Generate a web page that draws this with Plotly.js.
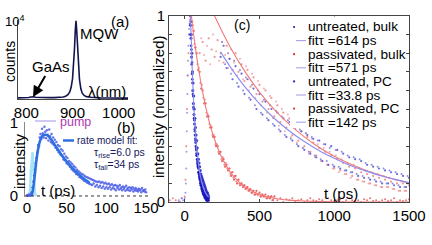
<!DOCTYPE html>
<html><head><meta charset="utf-8">
<script src="https://cdn.plot.ly/plotly-3.0.1.min.js"></script>
<style>html,body{margin:0;padding:0;background:#fff}#chart{width:432px;height:245px}</style>
</head><body><div id="chart"></div>
<script>
// ---------- panel (a): PL spectrum ----------
const specWavelength = [782,790,800,805,810,813,816,820,830,840,850,860,870,880,885,890,894,897,900,902,904,906,907.5,909,911,913,915,918,921,925,930,940,950,960,980,1000,1020];
const specCounts     = [150,150,180,200,260,320,280,220,180,160,170,180,200,260,350,550,900,1500,2600,4000,6200,8800,10000,8800,6200,4000,2500,1300,750,450,300,220,170,150,130,120,110];
const aTicks = [800,900,1000];
const aYTickVal = 10000, aYTickText = '10<sup>4</sup>';

// ---------- panel (b): rise/fall ----------
const bDotStart = 0, bDotStep = 1;
const bDots = [0.01,0.0,0.02,0.01,0.0,0.03,
 0.05,0.12,0.2,0.28,0.36,
 0.45,0.52,0.6,0.7,0.68,0.8,0.85,0.78,0.92,0.86,
 0.8,0.95,0.88,0.79,0.9,0.84,0.76,0.91,0.82,0.74,
 0.85,0.72,0.8,0.7,0.77,0.66,0.74,0.63,0.7,0.6,
 0.68,0.57,0.64,0.55,0.62,0.5,0.58,0.49,0.54,0.45,
 0.52,0.43,0.48,0.4,0.46,0.37,0.44,0.35,0.41,0.33,
 0.39,0.3,0.36,0.29,0.34,0.26,0.32,0.25,0.3,0.23,
 0.29,0.21,0.27,0.2,0.26,0.18,0.25,0.17,0.24,0.16,
 0.23,0.15,0.22,0.17,0.21,0.13,0.2,0.15,0.19,0.12,
 0.2,0.14,0.18,0.11,0.19,0.13,0.17,0.1,0.18,0.12,
 0.16,0.1,0.17,0.12,0.15,0.09,0.16,0.11,0.14,0.1,
 0.15,0.08,0.14,0.11,0.13,0.09,0.15,0.1,0.12,0.08,
 0.13,0.1,0.12,0.07,0.14,0.09,0.11,0.08,0.12,0.07,
 0.11,0.09,0.12,0.06,0.1,0.08,0.11,0.07,0.09,0.06,
 0.1,0.08,0.09,0.05,0.11,0.07,0.08,0.06,0.09,0.05];
const bFitT = [6,8,10,12,14,16,18,20,23,26,30,35,40,45,50,55,60,65,70,75,79];
const bFitV = [0,0.12,0.3,0.5,0.64,0.74,0.8,0.83,0.84,0.83,0.78,0.7,0.62,0.54,0.47,0.41,0.35,0.3,0.25,0.21,0.18];
const pumpT = [0,2,3,4,5,6,7,8,9,10,12];
const pumpV = [0,0,0.02,0.1,0.35,0.58,0.6,0.4,0.15,0.03,0];
const bTicks = [0,50,100,150];

// ---------- panel (c): TRPL ----------
const pcURiseT = [-40,-30,-20,-10,0,5,8,10,12,14,16,18,20,22,25,28,30,33,36];
const pcURiseV = [0.01,0,0.02,0.01,0.02,0.05,0.1,0.18,0.27,0.38,0.48,0.58,0.68,0.76,0.84,0.9,0.93,0.96,0.98];
const pcUStart = 38, pcUStep = 2;
const pcUDecay = [.95,1.0,.88,.9,.78,.8,.69,.7,.6,.64,.53,.57,.47,.5,.42,.45,.36,.4,.32,.36,.28,.33,.25,.29,.21,.26,.19,.23,.16,.21,.14,.19,.13,.17,.11,.15,.09,.14,.08,.13,.07,.12,.06,.11,.05,.1,.04,.09,.03,.08,.03,.07,.02,.06,.02,.05,.01,.05,.02,.04,.01,.03];
const pcU2Start = 39, pcU2Step = 2;
const pcUDecay2 = [.9,.97,.84,.82,.74,.75,.66,.64,.58,.57,.51,.5,.45,.44,.39,.38,.34,.33,.3,.29,.26,.25,.23,.22,.2,.19,.18,.16,.15,.15,.13,.12,.12,.1,.1,.09,.09,.07,.08,.06,.07,.05,.06,.04,.05,.04,.04,.03,.04,.02,.03,.02,.03,.01,.02,.02,.01,.02,.01,.01,.02];
const pcPRiseT = [-100,-80,-60,-40,-20,0,5,10,15,20,25,30,35,40];
const pcPRiseV = [0.01,0.02,0.01,0,0.02,0.03,0.12,0.3,0.5,0.68,0.8,0.9,0.96,0.99];
const pcPStart = 50, pcPStep = 10;
const pcPDecay = [.97,.92,.83,.8,.71,.7,.61,.6,.53,.53,.46,.46,.4,.4,.35,.35,.3,.3,.26,.27,.22,.23,.19,.2,.17,.18,.14,.16,.12,.14,.1,.12,.09,.1,.08,.09,.07,.08,.06,.07,.05,.06,.04,.06,.04,.05,.03,.04,.03,.04,.02,.03,.02,.03,.01,.03];
const pcP2Start = 55, pcP2Step = 10;
const pcPDecay2 = [.95,.85,.83,.74,.72,.64,.63,.56,.55,.48,.47,.42,.41,.36,.36,.31,.31,.27,.27,.23,.24,.2,.21,.18,.18,.15,.16,.13,.14,.11,.12,.1,.1,.09,.09,.07,.08,.06,.07,.05,.06,.04,.05,.04,.04,.03,.04,.03,.03,.02,.03,.02,.03,.01,.02];
const pcPTailStart = 620, pcPTailStep = 20;
const pcPTail = [0.01,0.02,0.0,0.015,0.01,0.02,0.005,0.01,0.015,0,0.01,0.02,0.01,0.005,0.015,0.01,0,0.02,0.01,0.005,0.01,0.015,0.0,0.01,0.02,0.01,0.005,0.01,0.0,0.015,0.01,0.02,0.005,0.01,0,0.01,0.015,0.005,0.01,0.02,0.0,0.01,0.005,0.01,0.015];
const bulkUStart = 240, bulkUStep = 20;
const bulkU = [.78,.84,.72,.77,.66,.73,.62,.69,.58,.66,.55,.61,.5,.58,.47,.54,.44,.5,.41,.48,.38,.45,.35,.43,.33,.4,.3,.38,.28,.36,.26,.34,.24,.33,.22,.31,.2,.3,.19,.28,.18,.26,.17,.24,.16,.23,.14,.22,.13,.2,.12,.19,.11,.18,.1,.17,.1,.16,.09,.15,.08,.14,.08,.13];
const bulkU2Start = 250, bulkU2Step = 20;
const bulkU2 = [.86,.74,.8,.69,.76,.64,.71,.6,.67,.56,.63,.52,.6,.48,.55,.45,.52,.42,.49,.39,.46,.36,.44,.34,.41,.31,.39,.29,.37,.27,.35,.25,.33,.23,.31,.22,.29,.2,.28,.19,.27,.17,.25,.16,.24,.15,.23,.14,.21,.13,.2,.12,.19,.11,.18,.1,.17,.1,.16,.09,.15,.08,.14];
const bulkPStart = 100, bulkPStep = 20;
const bulkP = [.8,.86,.76,.88,.82,.78,.87,.8,.75,.84,.77,.71,.8,.7,.74,.65,.71,.62,.67,.58,.63,.54,.6,.5,.56,.46,.52,.43,.48,.4,.45,.36,.42,.33,.38,.3,.35,.27,.32,.25,.29,.22,.27,.2,.25,.18,.23,.17,.21,.15,.19,.14,.18,.12,.16,.11,.15,.1,.14,.09,.13,.08,.12,.08,.11,.07,.1,.06,.1,.06,.09];
const bulkP2Start = 110, bulkP2Step = 20;
const bulkP2 = [.88,.79,.84,.74,.9,.81,.76,.86,.79,.72,.82,.75,.68,.77,.66,.73,.6,.69,.56,.65,.52,.61,.48,.57,.45,.54,.41,.5,.38,.47,.35,.44,.32,.41,.29,.37,.26,.34,.24,.31,.22,.29,.2,.27,.18,.25,.16,.23,.15,.21,.13,.2,.12,.18,.11,.17,.1,.16,.09,.15,.08,.14,.08,.13,.07,.12,.06,.11,.06,.1];
const fitBulkUT = [240,300,400,500,600,700,800,900,1000,1100,1200,1300,1400,1500];
const fitBulkUV = [.807,.732,.622,.529,.449,.382,.325,.276,.235,.199,.170,.144,.123,.104];
const fitBulkPT = [180,200,300,400,500,600,700,800,900,1000,1100,1200,1300,1400,1500];
const fitBulkPV = [1.035,1.0,.839,.705,.591,.496,.417,.35,.293,.246,.207,.174,.146,.122,.103];
const fitPCUT = [30,40,50,60,70,80,90,100,110,120,130,140,150,160];
const fitPCUV = [1.3,.97,.72,.53,.4,.29,.22,.16,.12,.088,.065,.048,.035,.026];
const fitPCPT = [40,50,75,100,125,150,175,200,250,300,350,400,450,500,600,700,800,1000,1500];
const fitPCPV = [1.04,.965,.81,.68,.57,.477,.40,.336,.236,.166,.117,.082,.058,.04,.02,.01,.005,.001,0];
const cTicks = [0,500,1000,1500];
const cYTicks = [0,0.1,0.2,0.3,0.4,0.5,0.6,0.7,0.8,0.9,1];
const cYTickText = ['0','','','','','','','','','','1'];
const legendLabels = ['untreated, bulk','fitτ =614 ps','passivated, bulk','fitτ =571 ps','untreated, PC','fitτ =33.8 ps','passivated, PC','fitτ =142 ps'];
const legendKinds  = ['dotU','line','dotP','line','dotU','line','dotP','line'];

// ---------- build ----------
const W = 432, H = 245;
const px = x => x / W, py = y => 1 - y / H;
const FONT = 'Liberation Sans, Arial, sans-serif';
const BLUE_DOT = '#2626c8', RED_DOT = '#e23a3a';
const BLUE_FIT = '#8a8af0', RED_FIT = '#f07a7a';

function dots(x0, dx, y, color, size, op) {
  return {x0, dx, y, xaxis:'x3', yaxis:'y3', mode:'markers', marker:{color, size, opacity:op}};
}
const traces = [
  {x: specWavelength, y: specCounts, xaxis:'x', yaxis:'y', mode:'lines', line:{color:'#14144e', width:1.6}},
  {x: pumpT, y: pumpV, xaxis:'x2', yaxis:'y2', mode:'lines', line:{color:'#a8e4f8', width:2.5}},
  {x0: bDotStart, dx: bDotStep, y: bDots, xaxis:'x2', yaxis:'y2', mode:'markers', marker:{color:'#4a5ce6', size:2.5, opacity:0.85}},
  {x: bFitT, y: bFitV, xaxis:'x2', yaxis:'y2', mode:'lines', line:{color:'#2f70e0', width:2.6, shape:'spline'}},
  dots(bulkPStart, bulkPStep, bulkP, '#f08a8a', 2.2, 0.9),
  dots(bulkP2Start, bulkP2Step, bulkP2, '#f2a0a0', 2, 0.85),
  dots(bulkUStart, bulkUStep, bulkU, '#5a5ad8', 2.2, 0.9),
  dots(bulkU2Start, bulkU2Step, bulkU2, '#7a7ae0', 2, 0.85),
  {x: pcPRiseT, y: pcPRiseV, xaxis:'x3', yaxis:'y3', mode:'markers', marker:{color:RED_DOT, size:2, opacity:0.6}},
  dots(pcPStart, pcPStep, pcPDecay, RED_DOT, 2.2, 0.8),
  dots(pcP2Start, pcP2Step, pcPDecay2, '#ee6a6a', 2, 0.75),
  dots(pcPTailStart, pcPTailStep, pcPTail, RED_DOT, 2, 0.7),
  {x: pcURiseT, y: pcURiseV, xaxis:'x3', yaxis:'y3', mode:'markers', marker:{color:'#7070f0', size:2, opacity:0.7}},
  dots(pcUStart, pcUStep, pcUDecay, BLUE_DOT, 3, 0.9),
  dots(pcU2Start, pcU2Step, pcUDecay2, '#1a1ab8', 2.6, 0.9),
  {x: fitBulkPT, y: fitBulkPV, xaxis:'x3', yaxis:'y3', mode:'lines', line:{color:RED_FIT, width:1.1, shape:'spline'}},
  {x: fitBulkUT, y: fitBulkUV, xaxis:'x3', yaxis:'y3', mode:'lines', line:{color:BLUE_FIT, width:1.1, shape:'spline'}},
  {x: fitPCPT, y: fitPCPV, xaxis:'x3', yaxis:'y3', mode:'lines', line:{color:RED_FIT, width:1.1, shape:'spline'}},
  {x: fitPCUT, y: fitPCUV, xaxis:'x3', yaxis:'y3', mode:'lines', line:{color:BLUE_FIT, width:1.1, shape:'spline'}}
];

const tickFont = {family: FONT, size: 15, color: '#000'};
const baseAxis = {showgrid:false, zeroline:false, tickfont: tickFont, fixedrange:true};

const layout = {
  width: W, height: H, margin:{l:0,r:0,t:0,b:0}, showlegend:false,
  paper_bgcolor:'#fff', plot_bgcolor:'rgba(0,0,0,0)',
  font:{family: FONT, color:'#000'},
  xaxis: Object.assign({}, baseAxis, {domain:[px(18),px(128)], anchor:'y', range:[782,1020], tickvals:aTicks, ticks:'', showline:true, linecolor:'#444', linewidth:1}),
  yaxis: Object.assign({}, baseAxis, {domain:[py(99),py(20)], anchor:'x', range:[0,10100], tickvals:[aYTickVal], showticklabels:false, ticks:'', showline:true, linecolor:'#444', linewidth:1}),
  xaxis2: Object.assign({}, baseAxis, {domain:[px(25),px(150)], anchor:'y2', range:[-2.5,155], tickvals:bTicks, ticks:'', showline:false}),
  yaxis2: Object.assign({}, baseAxis, {domain:[py(197),py(122)], anchor:'x2', range:[-0.014,1.014], tickvals:[0,1], ticks:'', ticklabelstandoff:3, showline:true, linecolor:'#888', linewidth:1}),
  xaxis3: Object.assign({}, baseAxis, {domain:[px(169),px(409)], anchor:'y3', range:[-105,1500], tickvals:cTicks, ticks:'inside', ticklen:3, tickcolor:'#444', mirror:'ticks', showline:true, linecolor:'#444', linewidth:1}),
  yaxis3: Object.assign({}, baseAxis, {domain:[py(202),py(16)], anchor:'x3', range:[0,1], tickvals:cYTicks, ticktext:cYTickText, ticks:'inside', ticklen:3, tickcolor:'#444', mirror:'ticks', showline:true, linecolor:'#444', linewidth:1}),
  shapes: [], annotations: []
};

function ann(text, x, y, o) {
  layout.annotations.push(Object.assign({text, x:px(x), y:py(y), xref:'paper', yref:'paper', showarrow:false,
    xanchor:'center', yanchor:'middle', font:{family:FONT, size:15, color:'#000'}}, o || {}));
}
// panel a
layout.annotations.push({text:aYTickText, x:px(3), xref:'paper', y:aYTickVal, yref:'y', xanchor:'left', yanchor:'middle', showarrow:false, font:{family:FONT, size:13, color:'#000'}});
ann('(a)', 120, 22);
ann('MQW', 99, 33);
ann('λ(nm)', 107, 91);
ann('counts', 10, 62, {textangle:-90, font:{family:FONT, size:14, color:'#000'}});
layout.annotations.push({text:'GaAs', x:814.5, y:250, xref:'x', yref:'y', ax:18, ay:-31, showarrow:true,
  arrowhead:2, arrowsize:1.1, arrowwidth:2, arrowcolor:'#000', font:{family:FONT, size:15, color:'#000'}});
// panel b
ann('pump', 75, 122, {font:{family:FONT, size:12.5, color:'#b038b8'}});
ann('(b)', 126, 127);
ann('rate model fit:', 75, 140.5, {xanchor:'left', font:{family:FONT, size:10, color:'#142060'}});
ann('τ<sub>rise</sub>=6.0 ps', 92, 152.5, {xanchor:'left', font:{family:FONT, size:10.5, color:'#142060'}});
ann('τ<sub>fall</sub>=34 ps', 92, 164.5, {xanchor:'left', font:{family:FONT, size:10.5, color:'#142060'}});
ann('intensity', 19, 161, {textangle:-90});
ann('t (ps)', 58, 190);
layout.shapes.push({type:'line', xref:'x2 domain', yref:'y2', x0:0, x1:1, y0:0, y1:0, line:{color:'#333', width:1, dash:'dot'}});
layout.shapes.push({type:'line', xref:'paper', yref:'paper', x0:px(35), x1:px(56), y0:py(121), y1:py(121), line:{color:'#b0a4ea', width:1.2}});
layout.shapes.push({type:'line', xref:'paper', yref:'paper', x0:px(63), x1:px(74), y0:py(140.5), y1:py(140.5), line:{color:'#2f70e0', width:2.5}});
// panel c
ann('(c)', 242, 25, {font:{family:FONT, size:14, color:'#000'}});
ann('t (ps)', 341, 193);
ann('intensity (normalized)', 158, 107, {textangle:-90});
// legend (c)
layout.shapes.push({type:'rect', xref:'paper', yref:'paper', x0:px(290), x1:px(405.5), y0:py(128), y1:py(16.6), fillcolor:'#fff', line:{width:0}, layer:'above'});
legendLabels.forEach((lab, i) => {
  const y = 27 + i * 13.6;
  ann(lab, 306, y, {xanchor:'left', font:{family:FONT, size:13.6, color:'#000'}});
  const k = legendKinds[i];
  if (k === 'line') {
    layout.shapes.push({type:'line', xref:'paper', yref:'paper', x0:px(296), x1:px(306), y0:py(y), y1:py(y), line:{color:'#a4a4e8', width:1.1}, layer:'above'});
  } else {
    const c = k === 'dotU' ? '#2a2aa0' : '#e03030';
    layout.shapes.push({type:'circle', xref:'paper', yref:'paper', x0:px(293), x1:px(295.2), y0:py(y+1.1), y1:py(y-1.1), fillcolor:c, line:{width:0}, layer:'above'});
  }
});

Plotly.newPlot('chart', traces, layout, {staticPlot:true, displayModeBar:false});
</script></body></html>
